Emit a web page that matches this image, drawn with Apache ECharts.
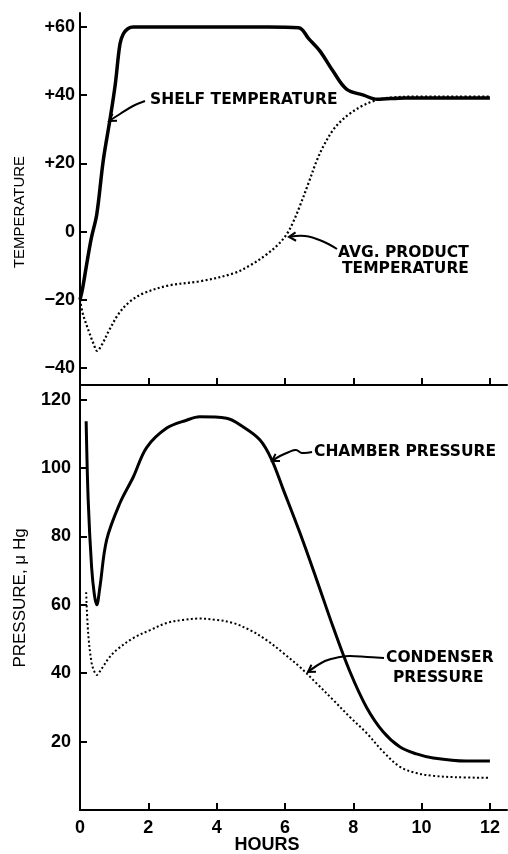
<!DOCTYPE html>
<html>
<head>
<meta charset="utf-8">
<script src="https://cdn.jsdelivr.net/npm/echarts@6/dist/echarts.min.js"></script>
<style>html,body{margin:0;padding:0;background:#fff}#c{width:508px;height:854px}</style>
</head>
<body>
<div id="c"></div>
<script>
// ---- data (hours, values) ----
const shelfHours = [0, 0.07, 0.18, 0.33, 0.49, 0.68, 0.88, 1.03, 1.17, 1.27, 1.4, 1.56, 2.5, 4, 5.5, 6.4, 6.7, 7.02, 7.41, 7.8, 8.3, 8.7, 9.5, 10.5, 12];
const shelfTemp  = [-20, -17, -10.5, -2, 5, 20.8, 33, 43, 55, 58, 59.5, 60, 60, 60, 60, 59.8, 56.5, 53, 47, 41.8, 40, 38.8, 39.2, 39.2, 39.2];

const productHours = [0, 0.08, 0.27, 0.4, 0.5, 0.65, 0.85, 1.14, 1.43, 1.84, 2.6, 3.5, 4.48, 5.0, 5.45, 5.8, 6.05, 6.25, 6.44, 6.7, 6.93, 7.15, 7.41, 7.65, 7.9, 8.25, 8.6, 9.0, 10, 11, 12];
const productTemp  = [-20, -24, -29.6, -33, -35, -33, -29, -24, -20.8, -18.2, -15.8, -14.6, -12.3, -9.8, -6.8, -3.8, -0.8, 3, 7.6, 14.5, 20.8, 25.5, 29.8, 32.5, 34.6, 36.8, 38.3, 39.2, 39.6, 39.6, 39.6];

const chamberHours = [0.18, 0.24, 0.34, 0.42, 0.49, 0.58, 0.78, 1.17, 1.56, 1.95, 2.54, 3.12, 3.5, 4.29, 4.78, 5.27, 5.61, 5.94, 6.44, 6.93, 7.41, 7.9, 8.39, 8.88, 9.37, 9.85, 10.34, 11.3, 12];
const chamberPressure = [113.7, 90.6, 71, 63, 60, 65, 79, 89.8, 97.4, 106, 111.7, 114, 115, 114.6, 112, 108.2, 102.5, 94, 81, 67.3, 53.5, 40.5, 30, 22.8, 18.4, 16.4, 15.2, 14.3, 14.3];

const condenserHours = [0.18, 0.24, 0.34, 0.42, 0.49, 0.58, 0.68, 0.85, 1.07, 1.56, 2.05, 2.54, 3.02, 3.5, 4.0, 4.48, 4.98, 5.46, 5.95, 6.44, 6.93, 7.41, 7.9, 8.39, 8.88, 9.37, 9.85, 10.34, 11, 12];
const condenserPressure = [63.7, 51.6, 43, 40.5, 39.5, 40.5, 42, 44.5, 46.8, 50.3, 52.6, 54.7, 55.6, 56, 55.6, 54.7, 52.6, 49.7, 45.9, 41.8, 37, 32.2, 27.2, 22.5, 17, 12.6, 10.8, 10, 9.6, 9.4];

const hourTicks = [0, 2, 4, 6, 8, 10, 12];
const tempTicks = [-40, -20, 0, 20, 40, 60];
const pressureTicks = [20, 40, 60, 80, 100, 120];

const labels = {
  shelf: 'SHELF TEMPERATURE',
  product1: 'AVG. PRODUCT',
  product2: 'TEMPERATURE',
  chamber: 'CHAMBER PRESSURE',
  condenser1: 'CONDENSER',
  condenser2: 'PRESSURE',
  yTop: 'TEMPERATURE',
  yBottom: 'PRESSURE, \u03bc Hg',
  x: 'HOURS'
};

// ---- build ----
const zip = (a, b) => a.map((v, i) => [v, b[i]]);
const tickFont = {color: '#000', fontFamily: 'Liberation Sans', fontWeight: 'bold', fontSize: 18};
const axLine = {show: true, onZero: false, lineStyle: {color: '#000', width: 2}};
const annFont = "bold 15.5px 'DejaVu Sans'";

function arrow(points, w) {
  const n = points.length;
  const tip = points[n - 1], prev = points[n - 2];
  const ang = Math.atan2(tip[1] - prev[1], tip[0] - prev[0]);
  const L = 8, a = 0.55;
  const b1 = [tip[0] - L * Math.cos(ang - a), tip[1] - L * Math.sin(ang - a)];
  const b2 = [tip[0] - L * Math.cos(ang + a), tip[1] - L * Math.sin(ang + a)];
  return [
    {type: 'polyline', shape: {points: points, smooth: 0.4}, style: {stroke: '#000', lineWidth: w, fill: null}},
    {type: 'polyline', shape: {points: [b1, tip, b2]}, style: {stroke: '#000', lineWidth: w, fill: null}}
  ];
}
function txt(x, y, s, font, rot) {
  return {type: 'text', x: x, y: y, rotation: rot || 0,
    style: {x: 0, y: 0, text: s, font: font, fill: '#000', textAlign: rot ? 'center' : 'left', textVerticalAlign: 'middle'}};
}

const tempFmt = v => v > 0 ? '+' + v : (v < 0 ? '\u2212' + (-v) : '0');
const dotted = [2, 2.4];

const option = {
  animation: false,
  backgroundColor: '#fff',
  grid: [
    {left: 80, top: 13, width: 427, height: 372},
    {left: 80, top: 385, width: 427, height: 425}
  ],
  xAxis: [
    {type: 'value', gridIndex: 0, min: 0, max: 12.5, axisLine: axLine,
     axisTick: {inside: true, length: 7, customValues: hourTicks, lineStyle: {color: '#000', width: 2}},
     axisLabel: {show: false}, splitLine: {show: false}},
    {type: 'value', gridIndex: 1, min: 0, max: 12.5, axisLine: axLine,
     axisTick: {inside: true, length: 7, customValues: hourTicks, lineStyle: {color: '#000', width: 2}},
     axisLabel: Object.assign({customValues: hourTicks, margin: 9}, tickFont), splitLine: {show: false}}
  ],
  yAxis: [
    {type: 'value', gridIndex: 0, min: -45, max: 64.1, axisLine: axLine,
     axisTick: {inside: true, length: 7, customValues: tempTicks, lineStyle: {color: '#000', width: 2}},
     axisLabel: Object.assign({customValues: tempTicks, margin: 5, formatter: tempFmt}, tickFont), splitLine: {show: false}},
    {type: 'value', gridIndex: 1, min: 0, max: 124.3, axisLine: axLine,
     axisTick: {inside: true, length: 7, customValues: pressureTicks, lineStyle: {color: '#000', width: 2}},
     axisLabel: Object.assign({customValues: pressureTicks, margin: 9}, tickFont), splitLine: {show: false}}
  ],
  series: [
    {type: 'line', name: 'shelf', xAxisIndex: 0, yAxisIndex: 0, data: zip(shelfHours, shelfTemp),
     showSymbol: false, smooth: 0.35, lineStyle: {color: '#000', width: 3.5}},
    {type: 'line', name: 'product', xAxisIndex: 0, yAxisIndex: 0, data: zip(productHours, productTemp),
     showSymbol: false, smooth: 0.35, lineStyle: {color: '#000', width: 2.2, type: dotted}},
    {type: 'line', name: 'chamber', xAxisIndex: 1, yAxisIndex: 1, data: zip(chamberHours, chamberPressure),
     showSymbol: false, smooth: 0.35, lineStyle: {color: '#000', width: 3}},
    {type: 'line', name: 'condenser', xAxisIndex: 1, yAxisIndex: 1, data: zip(condenserHours, condenserPressure),
     showSymbol: false, smooth: 0.35, lineStyle: {color: '#000', width: 2, type: dotted}}
  ],
  graphic: [].concat(
    arrow([[145, 101], [133, 106], [120, 114], [109, 121]], 2),
    arrow([[337, 249], [322, 241], [305, 236], [289, 237]], 2),
    arrow([[312, 452], [302, 453], [296, 450], [289, 452], [280, 456], [272, 461]], 2),
    arrow([[384, 658], [367, 657], [350, 656], [340, 657], [325, 661], [308, 672]], 2),
    [
      txt(150, 100, labels.shelf, annFont),
      txt(338, 253, labels.product1, annFont),
      txt(342, 269, labels.product2, annFont),
      txt(314, 452, labels.chamber, annFont),
      txt(386, 658, labels.condenser1, annFont),
      txt(393, 678, labels.condenser2, annFont),
      txt(20, 212, labels.yTop, "15px 'Liberation Sans'", Math.PI / 2),
      txt(20, 598, labels.yBottom, "17px 'Liberation Sans'", Math.PI / 2),
      {type: 'text', x: 267, y: 845, style: {x: 0, y: 0, text: labels.x, font: "bold 18px 'Liberation Sans'", fill: '#000', textAlign: 'center', textVerticalAlign: 'middle'}}
    ]
  )
};
echarts.init(document.getElementById('c'), null, {renderer: 'canvas'}).setOption(option);
</script>
</body>
</html>
